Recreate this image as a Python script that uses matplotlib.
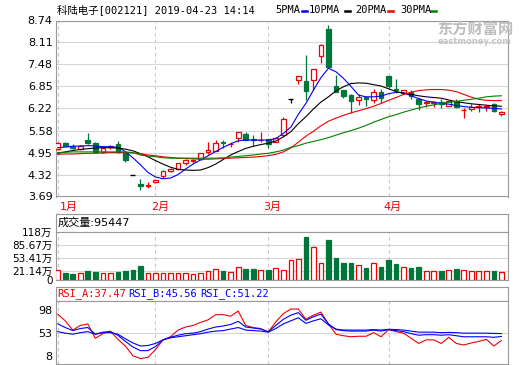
import numpy as np
import matplotlib
matplotlib.use("Agg")
import matplotlib.pyplot as plt
from matplotlib import transforms
from matplotlib.lines import Line2D

# daily candles (60 trading days)
opens = [5.04, 5.23, 5.14, 5.06, 5.31, 5.23, 4.96, 5.12, 5.20, 4.95,
         4.30, 4.04, 4.00, 4.10, 4.28, 4.43, 4.48, 4.66, 4.72, 4.77,
         4.96, 5.00, 5.26, 5.19, 5.36, 5.49, 5.33, 5.30, 5.33, 5.26,
         5.45, 6.50, 7.02, 7.01, 7.04, 7.71, 8.50, 6.87, 6.74, 6.59,
         6.46, 6.54, 6.47, 6.69, 7.14, 6.78, 6.67, 6.68, 6.49, 6.37,
         6.37, 6.41, 6.30, 6.43, 6.16, 6.19, 6.26, 6.27, 6.35, 6.05]
highs = [5.25, 5.24, 5.19, 5.18, 5.52, 5.24, 5.08, 5.18, 5.28, 4.97,
         4.30, 4.18, 4.12, 4.18, 4.44, 4.52, 4.64, 4.76, 4.78, 4.93,
         5.25, 5.31, 5.31, 5.26, 5.53, 5.54, 5.45, 5.53, 5.34, 5.40,
         5.96, 6.50, 7.15, 7.76, 7.36, 8.06, 8.62, 7.19, 6.76, 6.63,
         6.63, 6.55, 6.78, 6.78, 7.15, 7.07, 6.76, 6.74, 6.50, 6.42,
         6.42, 6.48, 6.44, 6.48, 6.24, 6.33, 6.34, 6.32, 6.37, 6.14]
lows = [5.02, 5.14, 5.05, 5.02, 5.19, 4.97, 4.93, 5.06, 4.95, 4.68,
        4.30, 3.88, 3.93, 4.07, 4.23, 4.39, 4.46, 4.59, 4.66, 4.75,
        4.90, 4.99, 5.07, 5.12, 5.26, 5.30, 5.15, 5.25, 5.07, 5.24,
        5.43, 6.37, 6.93, 6.47, 6.75, 7.52, 7.39, 6.68, 6.52, 6.09,
        6.32, 6.28, 6.37, 6.37, 6.80, 6.66, 6.62, 6.48, 6.17, 6.27,
        6.26, 6.22, 6.29, 6.23, 5.94, 6.13, 6.12, 6.15, 6.12, 6.01]
closes = [5.23, 5.15, 5.08, 5.15, 5.22, 4.98, 5.07, 5.14, 4.98, 4.74,
          4.30, 4.00, 4.02, 4.16, 4.42, 4.48, 4.64, 4.75, 4.74, 4.93,
          5.02, 5.22, 5.23, 5.21, 5.53, 5.31, 5.31, 5.32, 5.20, 5.38,
          5.91, 6.50, 7.15, 6.71, 7.35, 8.05, 7.41, 6.69, 6.58, 6.44,
          6.54, 6.48, 6.69, 6.52, 6.85, 6.74, 6.74, 6.56, 6.34, 6.41,
          6.41, 6.33, 6.43, 6.26, 6.18, 6.27, 6.28, 6.29, 6.15, 6.12]

# moving average lines as drawn
ma5 = [5.09, 5.11, 5.13, 5.14, 5.15, 5.14, 5.12, 5.12, 5.10, 4.98,
       4.80, 4.60, 4.38, 4.25, 4.20, 4.22, 4.32, 4.48, 4.62, 4.74,
       4.86, 4.98, 5.10, 5.20, 5.29, 5.31, 5.31, 5.31, 5.31, 5.35,
       5.50, 5.68, 6.05, 6.36, 6.74, 7.10, 7.37, 7.27, 7.08, 6.85,
       6.60, 6.55, 6.55, 6.57, 6.64, 6.68, 6.67, 6.58, 6.50, 6.43,
       6.40, 6.36, 6.34, 6.30, 6.27, 6.25, 6.24, 6.23, 6.22, 6.20]
ma10 = [4.93, 4.97, 5.01, 5.04, 5.06, 5.08, 5.09, 5.09, 5.08, 5.05,
        5.00, 4.92, 4.83, 4.72, 4.62, 4.53, 4.47, 4.45, 4.44, 4.45,
        4.52, 4.62, 4.75, 4.88, 4.98, 5.07, 5.13, 5.18, 5.22, 5.28,
        5.40, 5.55, 5.78, 5.98, 6.20, 6.40, 6.55, 6.72, 6.84, 6.93,
        6.95, 6.94, 6.90, 6.86, 6.78, 6.70, 6.65, 6.62, 6.58, 6.55,
        6.53, 6.51, 6.46, 6.41, 6.38, 6.35, 6.33, 6.31, 6.29, 6.28]
ma20 = [4.90, 4.91, 4.91, 4.92, 4.93, 4.93, 4.94, 4.95, 4.95, 4.95,
        4.94, 4.92, 4.88, 4.86, 4.83, 4.81, 4.79, 4.78, 4.77, 4.76,
        4.76, 4.77, 4.78, 4.79, 4.80, 4.81, 4.82, 4.84, 4.86, 4.90,
        4.97, 5.08, 5.25, 5.42, 5.56, 5.72, 5.85, 5.94, 6.02, 6.09,
        6.15, 6.21, 6.28, 6.36, 6.45, 6.53, 6.62, 6.68, 6.73, 6.75,
        6.76, 6.76, 6.74, 6.70, 6.62, 6.54, 6.48, 6.45, 6.44, 6.44]
ma30 = [4.95, 4.96, 4.97, 4.97, 4.97, 4.97, 4.97, 4.97, 4.97, 4.97,
        4.95, 4.88, 4.85, 4.83, 4.80, 4.79, 4.79, 4.79, 4.79, 4.79,
        4.79, 4.79, 4.80, 4.82, 4.84, 4.86, 4.88, 4.91, 4.93, 4.97,
        5.02, 5.10, 5.15, 5.22, 5.27, 5.32, 5.38, 5.45, 5.52, 5.58,
        5.65, 5.73, 5.82, 5.90, 5.98, 6.04, 6.11, 6.17, 6.23, 6.28,
        6.32, 6.36, 6.39, 6.42, 6.45, 6.48, 6.51, 6.55, 6.57, 6.58]

# volume in 万 shares
volume = [24.6, 17.2, 14.7, 17.2, 22.1, 20.5, 17.2, 17.2, 19.7, 22.1,
          24.6, 34.4, 17.2, 17.9, 17.2, 16.4, 17.2, 17.9, 15.6, 16.4,
          22.9, 26.2, 22.1, 19.7, 31.1, 26.2, 26.2, 24.6, 24.6, 28.7,
          24.6, 48.3, 50.8, 105.7, 80.3, 41.0, 98.3, 54.1, 41.8, 41.8,
          36.1, 28.7, 41.0, 31.1, 49.2, 39.3, 31.1, 28.7, 32.0, 21.3,
          21.3, 21.3, 25.4, 26.2, 25.4, 21.3, 21.3, 21.3, 22.1, 18.9]

rsi_a = [89, 76, 58, 67, 70, 42, 51, 56, 40, 27,
         8, 2.5, 5, 20, 39, 45, 58, 64, 67, 73,
         78, 88, 88, 85, 95, 67, 63, 61, 54, 74,
         90, 99, 99, 79, 87, 93, 70, 50, 47, 45,
         46, 46, 53, 45, 59, 55, 52, 42, 32, 39,
         39, 32, 44, 32, 29, 33, 36, 40, 27, 37.47]
rsi_b = [70, 63, 57, 61, 63, 50, 54, 55, 48, 36,
         25, 18, 18, 26, 39, 44, 48, 51, 52, 55,
         60, 64, 66, 69, 75, 64, 62, 60, 55, 67,
         79, 87, 92, 77, 84, 89, 70, 59, 57, 56,
         56, 56, 58, 56, 59, 57, 55, 51, 48, 49,
         49, 48, 49, 47, 45, 45, 45, 45, 44, 45.56]
rsi_c = [55, 52, 50, 53, 55, 50, 53, 53, 50, 41,
         33, 27, 28, 32, 39, 43, 45, 47, 49, 51,
         54, 56, 57, 60, 63, 58, 57, 56, 54, 61,
         70, 76, 82, 71, 76, 80, 68, 60, 58, 58,
         58, 58, 59, 58, 59.5, 59, 58, 56, 54, 54,
         54, 53, 53.5, 53, 52, 52, 52, 52, 51.5, 51.22]

month_labels = ["1月", "2月", "3月", "4月"]
month_starts = [0, 13, 28, 44]
price_ticks = [3.69, 4.32, 4.95, 5.58, 6.22, 6.85, 7.48, 8.11, 8.74]
vol_ticks = [0, 21.14, 53.41, 85.67, 118]
vol_ticklabels = ["0", "21.14万", "53.41万", "85.67万", "118万"]
rsi_ticks = [8, 53, 98]

RED = "#f00000"
GREEN = "#00773a"
BLUE = "#0000ff"
GRID = "#d6d6d6"
FRAME = "#999999"
CJK = ["DejaVu Sans", "Noto Sans CJK SC"]
MONO = ["DejaVu Sans Mono", "Noto Sans CJK SC"]

W, H = 520, 365


def rect(x0, y0, x1, y1):
    return [x0 / W, 1 - y1 / H, (x1 - x0) / W, (y1 - y0) / H]


def style(ax):
    for s in ax.spines.values():
        s.set_color(FRAME)
        s.set_linewidth(0.8)
    ax.tick_params(length=0, pad=2.5, labelsize=8)


x = np.arange(len(closes))
xlim = (-0.23, len(closes) - 0.12)

fig = plt.figure(figsize=(W / 100, H / 100), dpi=100)

# ---- price panel ----
ax = fig.add_axes(rect(56, 20.5, 508, 196.5))
style(ax)
ax.set_xlim(*xlim)
ax.set_ylim(price_ticks[0], price_ticks[-1])
ax.set_yticks(price_ticks)
ax.set_yticklabels([f"{t:.2f}" for t in price_ticks])
ax.set_xticks([])
for t in price_ticks:
    ax.axhline(t, color=GRID, lw=0.8, zorder=0)
for m in month_starts:
    ax.axvline(m, color="#c8c8c8", lw=0.8, ls=(0, (3, 3)), zorder=0)

for i in x:
    o, h, l, c = opens[i], highs[i], lows[i], closes[i]
    if c > o:
        col, face = RED, "white"
    elif c < o:
        col, face = GREEN, GREEN
    else:
        col, face = "black", "black"
    ax.vlines(i, l, h, color=col, lw=0.9, zorder=3)
    if c == o:
        ax.hlines(o, i - 0.33, i + 0.33, color=col, lw=1.0, zorder=4)
    else:
        ax.bar(i, max(abs(c - o), 0.02), bottom=min(o, c), width=0.62,
               facecolor=face, edgecolor=col, lw=0.9, zorder=4)

ax.plot(x, ma5, color=BLUE, lw=0.8, zorder=5)
ax.plot(x, ma10, color="black", lw=0.8, zorder=5)
ax.plot(x, ma20, color=RED, lw=0.8, zorder=5)
ax.plot(x, ma30, color="#008000", lw=0.8, zorder=5)

# title + legend
fig.text(57 / W, 1 - 10 / H, "科陆电子[002121] 2019-04-23 14:14",
         family=MONO, fontsize=7.5, va="center", ha="left")
legend_items = [("5PMA", BLUE, 275, 302), ("10PMA", "black", 309, 345),
                ("20PMA", RED, 355, 388), ("30PMA", "#008000", 400, 431)]
for name, col, tx, lx in legend_items:
    fig.text(tx / W, 1 - 10 / H, name, family=MONO, fontsize=7.5,
             va="center", ha="left")
    fig.add_artist(Line2D([lx / W, (lx + 5) / W], [1 - 10.5 / H] * 2,
                          color=col, lw=1.8))

# watermark
fig.text(437 / W, 1 - 29 / H, "东方财富网", family=["Noto Sans CJK SC"],
         fontsize=11, color="#bdbdbd", weight="bold", va="center", ha="left")
fig.text(438 / W, 1 - 41 / H, "eastmoney.com", fontsize=6, color="#c4c4c4",
         weight="bold", va="center", ha="left")

# month labels
lab_tf = transforms.blended_transform_factory(ax.transData, fig.transFigure)
for lab, m in zip(month_labels, month_starts):
    fig.text(max(m - 0.64, 0.3), 1 - 206.5 / H, lab, transform=lab_tf,
             family=CJK, fontsize=8, color=RED, va="center", ha="left")

# ---- volume panel ----
axvh = fig.add_axes(rect(56, 214, 508, 232))
style(axvh)
axvh.set_xticks([])
axvh.set_yticks([])
axvh.text(0.004, 0.5, "成交量:95447", transform=axvh.transAxes, family=CJK,
          fontsize=8, va="center", ha="left")

axv = fig.add_axes(rect(56, 232, 508, 280))
style(axv)
axv.set_xlim(*xlim)
axv.set_ylim(0, 118)
axv.set_xticks([])
axv.set_yticks(vol_ticks)
axv.set_yticklabels(vol_ticklabels, family=CJK, fontsize=7.5)
for t in vol_ticks[1:-1]:
    axv.axhline(t, color=GRID, lw=0.8, zorder=0)
for m in month_starts:
    axv.axvline(m, color="#c8c8c8", lw=0.8, ls=(0, (3, 3)), zorder=0)
vol_up = []
for i in x:
    if closes[i] != opens[i]:
        vol_up.append(closes[i] > opens[i])
    else:
        vol_up.append(i > 0 and closes[i] > closes[i - 1])
axv.bar(x, volume, width=0.62,
        facecolor=["white" if u else GREEN for u in vol_up],
        edgecolor=[RED if u else GREEN for u in vol_up], lw=0.9, zorder=3)

# ---- RSI panel ----
axrh = fig.add_axes(rect(56, 287, 508, 301))
style(axrh)
axrh.set_xticks([])
axrh.set_yticks([])
for txt, col, tx in [(f"RSI_A:{rsi_a[-1]:.2f}", RED, 57),
                     (f"RSI_B:{rsi_b[-1]:.2f}", BLUE, 128),
                     (f"RSI_C:{rsi_c[-1]:.2f}", BLUE, 200)]:
    fig.text(tx / W, 1 - 294 / H, txt, family=MONO, fontsize=7.5, color=col,
             va="center", ha="left")

axr = fig.add_axes(rect(56, 301, 508, 364))
style(axr)
axr.set_xlim(*xlim)
axr.set_ylim(-8, 114.6)
axr.set_xticks([])
axr.set_yticks(rsi_ticks)
axr.axhline(53, color=GRID, lw=0.8, zorder=0)
for m in month_starts:
    axr.axvline(m, color="#c8c8c8", lw=0.8, ls=(0, (3, 3)), zorder=0)
axr.plot(x, rsi_a, color=RED, lw=0.8)
axr.plot(x, rsi_b, color=BLUE, lw=0.8)
axr.plot(x, rsi_c, color=BLUE, lw=0.8)

fig.savefig("out.png", dpi=100)
